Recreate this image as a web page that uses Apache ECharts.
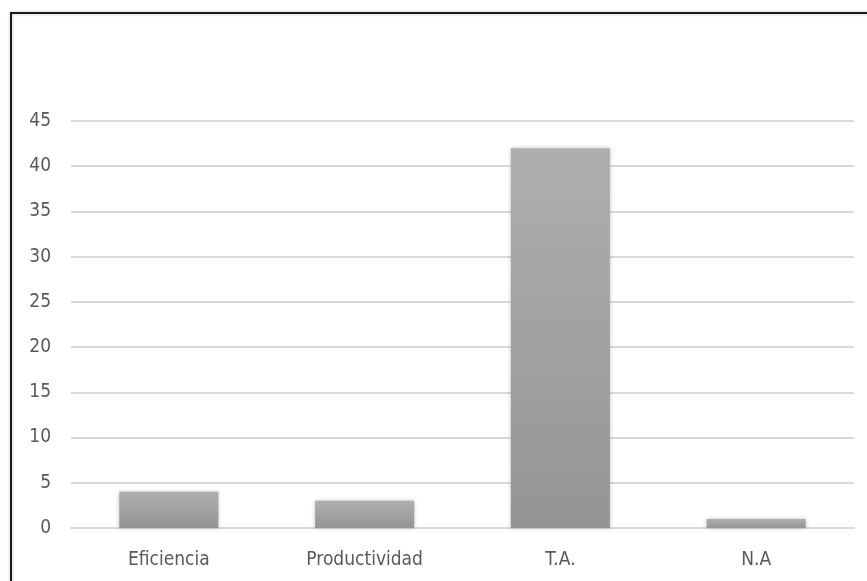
<!DOCTYPE html>
<html>
<head>
<meta charset="utf-8">
<script src="https://cdn.jsdelivr.net/npm/echarts@6/dist/echarts.min.js"></script>
<style>
html,body{margin:0;padding:0;background:#fff;}
#c{width:867px;height:581px;}
</style>
</head>
<body>
<div id="c"></div>
<script>
var categories = ['Eficiencia', 'Productividad', 'T.A.', 'N.A'];
var values = [4, 3, 42, 1];
var yTicks = {min: 0, max: 45, interval: 5};

var FONT = '"Liberation Sans Narrow", "DejaVu Sans Condensed", "Open Sans", sans-serif';
var chart = echarts.init(document.getElementById('c'), null, {renderer: 'canvas'});
chart.setOption({
  animation: false,
  backgroundColor: '#fff',
  grid: {left: 71, right: 13, top: 121, bottom: 53},
  graphic: [{
    type: 'rect',
    shape: {x: 11, y: 13, width: 900, height: 620},
    style: {fill: 'none', stroke: '#1a1a1a', lineWidth: 2, shadowColor: 'rgba(0,0,0,0.25)', shadowBlur: 3},
    silent: true,
    z: 100
  }],
  xAxis: {
    type: 'category',
    data: categories,
    axisLine: {show: true, lineStyle: {color: '#d9d9d9', width: 2}},
    axisTick: {show: false},
    axisLabel: {color: '#595959', fontSize: 19, fontFamily: FONT, margin: 23}
  },
  yAxis: {
    type: 'value',
    min: yTicks.min, max: yTicks.max, interval: yTicks.interval,
    axisLine: {show: false},
    axisTick: {show: false},
    axisLabel: {color: '#595959', fontSize: 19, fontFamily: FONT, margin: 20},
    splitLine: {lineStyle: {color: '#d9d9d9', width: 2}}
  },
  series: [{
    type: 'bar',
    data: values,
    barWidth: '50.6%',
    itemStyle: {
      color: new echarts.graphic.LinearGradient(0, 0, 0, 1, [
        {offset: 0, color: '#afafaf'},
        {offset: 1, color: '#949494'}
      ]),
      shadowColor: 'rgba(0,0,0,0.25)',
      shadowBlur: 4
    }
  }]
});
</script>
</body>
</html>
